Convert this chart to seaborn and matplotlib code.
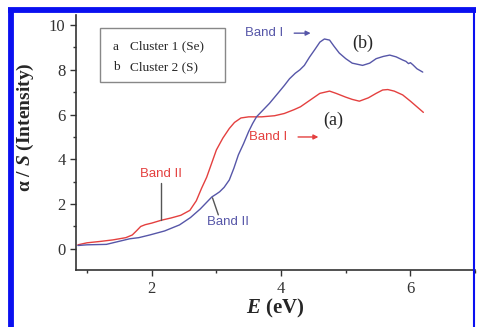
import numpy as np
import pandas as pd
import seaborn as sns
import matplotlib.pyplot as plt
from matplotlib.lines import Line2D
from matplotlib.patches import Rectangle

# curve (a) Cluster 1 (Se)
energy_a = [0.86, 1.0, 1.2, 1.4, 1.6, 1.7, 1.77, 1.83, 1.9, 2.0, 2.15, 2.3, 2.45, 2.59,
            2.69, 2.77, 2.85, 2.93, 3.0, 3.1, 3.2, 3.28, 3.38, 3.5, 3.7, 3.9, 4.05, 4.2,
            4.3, 4.45, 4.6, 4.75, 4.85, 5.0, 5.1, 5.21, 5.35, 5.47, 5.57, 5.65, 5.75,
            5.88, 6.0, 6.1, 6.2]
alpha_a = [0.18, 0.27, 0.33, 0.4, 0.5, 0.62, 0.82, 1.0, 1.08, 1.15, 1.28, 1.38, 1.5, 1.72,
           2.15, 2.7, 3.2, 3.85, 4.42, 4.95, 5.38, 5.65, 5.85, 5.9, 5.9, 5.95, 6.05, 6.22,
           6.35, 6.65, 6.95, 7.05, 6.95, 6.78, 6.68, 6.6, 6.75, 6.95, 7.1, 7.12, 7.05,
           6.88, 6.6, 6.35, 6.1]

# curve (b) Cluster 2 (S)
energy_b = [0.86, 1.0, 1.3, 1.66, 1.8, 1.97, 2.2, 2.43, 2.6, 2.75, 2.85, 2.93, 3.0, 3.05,
            3.12, 3.2, 3.27, 3.34, 3.42, 3.5, 3.56, 3.62, 3.72, 3.82, 3.95, 4.05, 4.13,
            4.22, 4.29, 4.36, 4.44, 4.52, 4.6, 4.67, 4.75, 4.82, 4.9, 5.0, 5.1, 5.26,
            5.37, 5.47, 5.58, 5.68, 5.78, 5.88, 5.93, 5.97, 6.0, 6.04, 6.1, 6.19]
alpha_b = [0.15, 0.18, 0.2, 0.45, 0.5, 0.62, 0.8, 1.07, 1.4, 1.78, 2.08, 2.32, 2.45, 2.55,
           2.75, 3.08, 3.6, 4.2, 4.7, 5.25, 5.6, 5.9, 6.2, 6.5, 6.95, 7.3, 7.6, 7.85,
           8.0, 8.2, 8.57, 8.9, 9.24, 9.38, 9.33, 9.05, 8.75, 8.5, 8.3, 8.2, 8.3, 8.5,
           8.6, 8.66, 8.58, 8.44, 8.38, 8.28, 8.32, 8.22, 8.05, 7.9]

legend_keys = ['a', 'b']
legend_names = ['Cluster 1 (Se)', 'Cluster 2 (S)']

red = '#e4403f'
blue = '#5656a8'

sns.set_style('ticks')
plt.rcParams['font.family'] = ['Liberation Serif', 'DejaVu Serif']
plt.rcParams['mathtext.fontset'] = 'custom'
plt.rcParams['mathtext.it'] = 'Liberation Serif:italic:bold'
plt.rcParams['mathtext.rm'] = 'Liberation Serif:bold'

fig = plt.figure(figsize=(4.78, 3.27), dpi=100)
ax = fig.add_axes([0.159, 0.174, 0.835, 0.78])

df_a = pd.DataFrame({'E': energy_a, 'alpha': alpha_a})
df_b = pd.DataFrame({'E': energy_b, 'alpha': alpha_b})
sns.lineplot(data=df_a, x='E', y='alpha', color=red, lw=1.0, ax=ax)
sns.lineplot(data=df_b, x='E', y='alpha', color=blue, lw=1.0, ax=ax)

ax.set_xlim(0.83, 7.0)
ax.set_ylim(-0.95, 10.45)
ax.set_xticks([2, 4, 6])
ax.set_xticks([1, 3, 5, 7], minor=True)
ax.set_yticks([0, 2, 4, 6, 8, 10])
ax.set_yticks([1, 3, 5, 7, 9], minor=True)
ax.tick_params(which='major', direction='out', length=4, width=1, labelsize=12,
               colors='#333333')
ax.tick_params(which='minor', direction='out', length=2.5, width=1, colors='#333333')
sns.despine(ax=ax)
for s in ['left', 'bottom']:
    ax.spines[s].set_linewidth(1.2)
    ax.spines[s].set_color('#333333')

ax.set_xlabel(r'$E$ (eV)', fontsize=15, fontweight='bold')
ax.set_ylabel(r'α / $S$ (Intensity)', fontsize=14, fontweight='bold')
ax.xaxis.set_label_coords(0.5, -0.105)
ax.yaxis.set_label_coords(-0.1, 0.56)

# legend box
ax.add_patch(Rectangle((0.06, 0.737), 0.314, 0.212, transform=ax.transAxes,
                       facecolor='white', edgecolor='#888888', lw=1.0, zorder=3))
for i, (k, n) in enumerate(zip(legend_keys, legend_names)):
    yy = 0.876 - i * 0.079
    ax.text(0.092, yy, k, transform=ax.transAxes, fontsize=9.5, va='center', zorder=4)
    ax.text(0.135, yy, n, transform=ax.transAxes, fontsize=9.5, va='center', zorder=4)

# curve labels
ax.text(5.26, 9.2, '(b)', fontsize=13, ha='center', va='center')
ax.text(4.8, 5.76, '(a)', fontsize=13, ha='center', va='center')

sans = ['Liberation Sans', 'DejaVu Sans']
ax.text(3.44, 9.64, 'Band I', color=blue, fontsize=9.5, family=sans, va='center')
ax.annotate('', xy=(4.5, 9.64), xytext=(4.16, 9.64),
            arrowprops=dict(arrowstyle='-|>', color=blue, lw=1, mutation_scale=7))
ax.text(3.51, 5.0, 'Band I', color=red, fontsize=9.5, family=sans, va='center')
ax.annotate('', xy=(4.62, 5.0), xytext=(4.22, 5.0),
            arrowprops=dict(arrowstyle='-|>', color=red, lw=1, mutation_scale=7))

ax.text(2.15, 3.35, 'Band II', color=red, fontsize=9.5, family=sans,
        ha='center', va='center')
ax.plot([2.15, 2.15], [2.95, 1.3], color='#555555', lw=1)
ax.text(2.85, 1.2, 'Band II', color=blue, fontsize=9.5, family=sans, va='center')
ax.plot([2.94, 3.03], [2.28, 1.52], color='#555555', lw=1)

# blue frame around the figure
fig.add_artist(Line2D([0.022, 0.022], [0, 0.97], transform=fig.transFigure,
                      color='#0a10f0', lw=4.2, solid_capstyle='butt'))
fig.add_artist(Line2D([0.0175, 0.995], [0.97, 0.97], transform=fig.transFigure,
                      color='#0a10f0', lw=4.2, solid_capstyle='butt'))
fig.add_artist(Line2D([0.991, 0.991], [0, 0.97], transform=fig.transFigure,
                      color='#0a10f0', lw=1.5, solid_capstyle='butt'))

fig.savefig('out.png', dpi=100)
